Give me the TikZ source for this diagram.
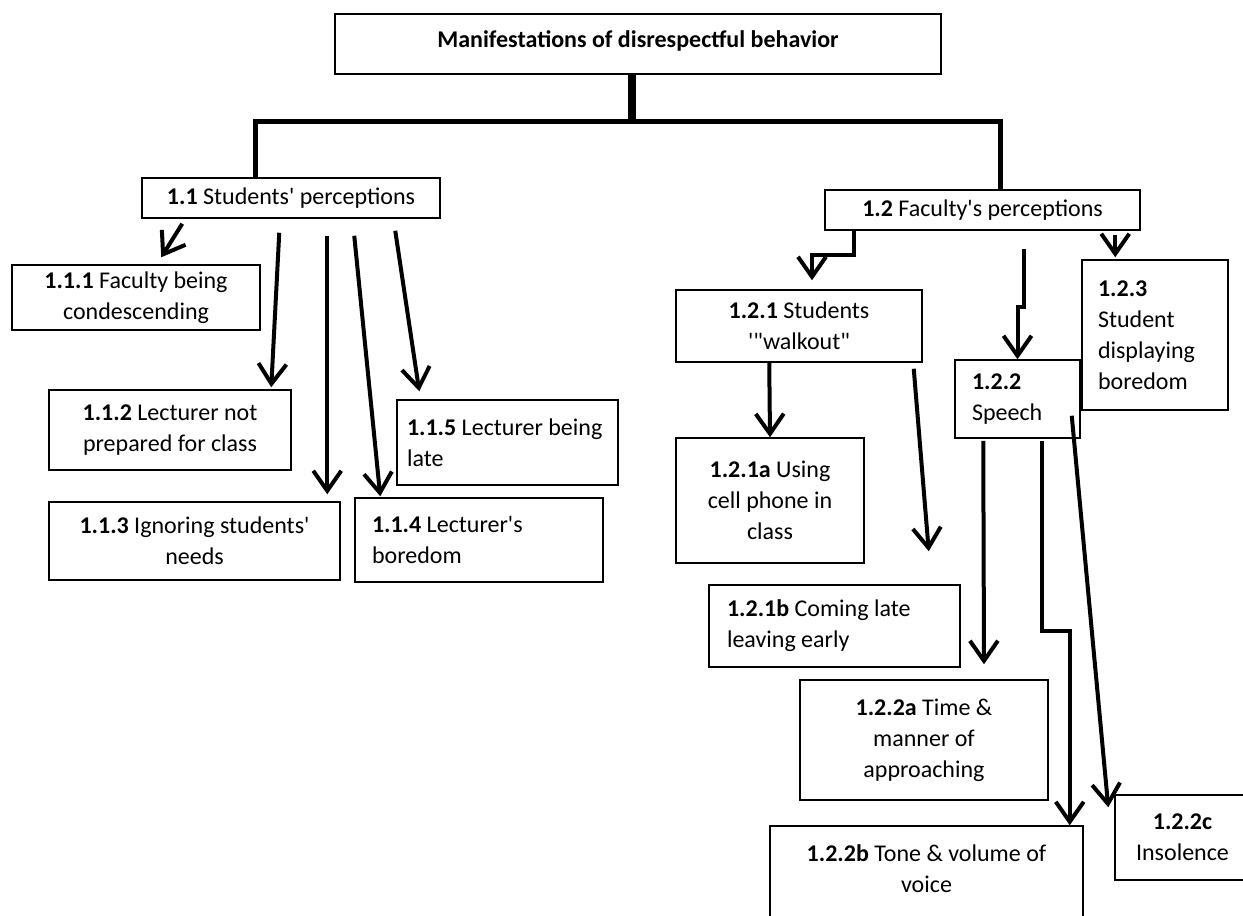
\documentclass[tikz,border=0pt]{standalone}
\usepackage{fontspec}
\setmainfont{Carlito}[Ligatures=TeXOff]
\usetikzlibrary{arrows.meta}
\tikzset{
	boxstyle/.style={rectangle,draw=black,line width=1.5pt,inner sep=0pt,font=\fontsize{24}{31}\selectfont},
	linkstyle/.style={line width=5pt},
	trunkstyle/.style={line width=8pt},
	arrowstyle/.style={line width=4pt,-{Straight Barb[length=20pt,width=28pt]}}
}
\begin{document}
\begin{tikzpicture}[x=1pt,y=-1pt]
	\useasboundingbox (0,0) rectangle (1243,916);
	\node[boxstyle,minimum width=606pt,minimum height=60pt] (0) at (638,44) {\textbf{Manifestations of disrespectful behavior}\rule[-9pt]{0pt}{0pt}};
	\node[boxstyle,minimum width=298pt,minimum height=40pt] (11) at (291,198) {\textbf{1.1} Students' perceptions};
	\node[boxstyle,minimum width=315pt,minimum height=40pt] (12) at (982.5,210) {\textbf{1.2} Faculty's perceptions};
	\node[boxstyle,minimum width=248pt,minimum height=65pt,align=center] (111) at (136,297.5) {\textbf{1.1.1} Faculty being\\condescending};
	\node[boxstyle,minimum width=242pt,minimum height=80pt,align=center] (112) at (170,430) {\textbf{1.1.2} Lecturer not\\prepared for class};
	\node[boxstyle,minimum width=291pt,minimum height=78pt,align=center] (113) at (194.5,541) {\textbf{1.1.3} Ignoring students'\\needs};
	\node[boxstyle,minimum width=248pt,minimum height=84pt,text width=214pt,align=flush left] (114) at (479,540) {\textbf{1.1.4} Lecturer's\\boredom};
	\node[boxstyle,minimum width=221pt,minimum height=85pt,text width=201pt,align=flush left] (115) at (507.5,442.5) {\textbf{1.1.5} Lecturer being\\late};
	\node[boxstyle,minimum width=246pt,minimum height=72pt,align=center] (121) at (799,326) {\textbf{1.2.1} Students\\'"walkout"};
	\node[boxstyle,minimum width=188pt,minimum height=125pt,align=center] (121a) at (770,500.5) {\textbf{1.2.1a} Using\\cell phone in\\class};
	\node[boxstyle,minimum width=251pt,minimum height=82pt,text width=215pt,align=flush left] (121b) at (834.5,626) {\textbf{1.2.1b} Coming late\\leaving early};
	\node[boxstyle,minimum width=125pt,minimum height=78pt,text width=91pt,align=flush left] (122) at (1017.5,399) {\textbf{1.2.2}\\Speech};
	\node[boxstyle,minimum width=146pt,minimum height=150pt,text width=114pt,align=flush left] (123) at (1155,335) {\textbf{1.2.3}\\Student\\displaying\\boredom};
	\node[boxstyle,minimum width=248pt,minimum height=120pt,align=center] (122a) at (924,740) {\textbf{1.2.2a} Time \&\\manner of\\approaching};
	\node[boxstyle,minimum width=313pt,minimum height=100pt,align=center] (122b) at (926.5,876) {\textbf{1.2.2b} Tone \& volume of\\voice\rule[-14pt]{0pt}{0pt}};
	\node[boxstyle,minimum width=135pt,minimum height=85pt,align=center] (122c) at (1182.5,837.5) {\textbf{1.2.2c}\\Insolence};
	\draw[trunkstyle] ([xshift=-6pt]0.south) -- ++(0,48);
	\draw[linkstyle] ([xshift=-36pt]11.north) -- ++(0,-56) -| ([xshift=17.5pt]12.north);
	\draw[arrowstyle] ([xshift=41pt,yshift=-5pt]11.south west) -- ([xshift=150pt,yshift=7pt]111.north west);
	\draw[arrowstyle] ([xshift=138pt,yshift=-14pt]11.south west) -- ([xshift=223pt,yshift=2pt]112.north west);
	\draw[arrowstyle] ([xshift=186pt,yshift=-17pt]11.south west) -- ([xshift=279pt,yshift=7pt]113.north west);
	\draw[arrowstyle] ([xshift=213pt,yshift=-17pt]11.south west) -- ([xshift=26pt,yshift=1pt]114.north west);
	\draw[arrowstyle] ([xshift=254pt,yshift=-12pt]11.south west) -- ([xshift=23pt,yshift=8pt]115.north west);
	\draw[arrowstyle] ([xshift=30pt]12.south west) -- ++(0,24) -| ([xshift=13pt,yshift=9pt]121.north);
	\draw[arrowstyle] ([xshift=200pt,yshift=-18pt]12.south west) -- ++(0,58) -| (122.north);
	\draw[arrowstyle] ([xshift=291pt,yshift=-4pt]12.south west) -- ([xshift=34pt,yshift=2pt]123.north west);
	\draw[arrowstyle] ([xshift=94pt]121.south west) -- (121a.north);
	\draw[arrowstyle] ([xshift=-9pt,yshift=-6pt]121.south east) -- ([xshift=-32pt,yshift=33pt]121b.north east);
	\draw[arrowstyle] ([xshift=29pt,yshift=-2pt]122.south west) -- ([xshift=60pt,yshift=15pt]122a.north);
	\draw[arrowstyle] ([xshift=88pt,yshift=-2pt]122.south west) -- ++(0,190) -| ([xshift=-14pt]122b.north east);
	\draw[arrowstyle] ([xshift=-9pt,yshift=23pt]122.south east) -- ([xshift=-6pt,yshift=-13pt]122c.north west);
\end{tikzpicture}
\end{document}
